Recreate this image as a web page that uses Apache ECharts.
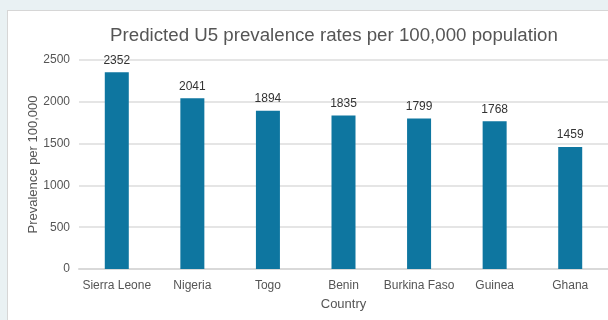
<!DOCTYPE html>
<html>
<head>
<meta charset="utf-8">
<script src="https://cdn.jsdelivr.net/npm/echarts@6/dist/echarts.min.js"></script>
<style>
  html, body { margin: 0; padding: 0; background: #e9f1f3; }
  #panel { position: absolute; left: 7px; top: 10px; width: 610px; height: 320px; background: #fff; border-left: 1px solid #d6d6d6; border-top: 1px solid #d6d6d6; }
  #chart { position: absolute; left: 0; top: 0; width: 608px; height: 320px; }
</style>
</head>
<body>
<div id="panel"></div>
<div id="chart"></div>
<script>
// Predicted under-five prevalence by country
const countries = ['Sierra Leone', 'Nigeria', 'Togo', 'Benin', 'Burkina Faso', 'Guinea', 'Ghana'];
const prevalence = [2352, 2041, 1894, 1835, 1799, 1768, 1459];
const yTicks = [0, 500, 1000, 1500, 2000, 2500];

const FONT = 'Liberation Sans, Arial, sans-serif';
const chart = echarts.init(document.getElementById('chart'), null, { renderer: 'canvas' });
chart.setOption({
  backgroundColor: 'transparent',
  animation: false,
  title: {
    text: 'Predicted U5 prevalence rates per 100,000 population',
    left: 329,
    top: 21,
    textAlign: 'center',
    textStyle: { fontFamily: FONT, fontSize: 18.7, fontWeight: 'normal', color: '#555' }
  },
  grid: { left: 79, right: -1, top: 60, bottom: 51, containLabel: false },
  xAxis: {
    type: 'category',
    data: countries,
    name: 'Country',
    nameLocation: 'middle',
    nameGap: 29,
    nameMoveOverlap: false,
    nameTextStyle: { fontFamily: FONT, fontSize: 13, color: '#555' },
    axisLine: { lineStyle: { color: '#d9d9d9', width: 2 } },
    axisTick: { show: false },
    axisLabel: { fontFamily: FONT, fontSize: 12, color: '#555', margin: 11, interval: 0 }
  },
  yAxis: {
    type: 'value',
    min: yTicks[0],
    max: yTicks[yTicks.length - 1],
    interval: 500,
    name: 'Prevalence per 100,000',
    nameLocation: 'middle',
    nameGap: 39,
    nameMoveOverlap: false,
    nameTextStyle: { fontFamily: FONT, fontSize: 13, color: '#555' },
    axisLine: { show: false },
    axisTick: { show: false },
    axisLabel: {
      fontFamily: FONT, fontSize: 12, color: '#555', margin: 9,
      formatter: v => String(v)
    },
    splitLine: { lineStyle: { color: '#dcdcdc', width: 1.5 } }
  },
  series: [{
    type: 'bar',
    data: prevalence,
    barWidth: 24,
    itemStyle: { color: '#0e76a0' },
    label: {
      show: true,
      position: 'top',
      distance: 6,
      fontFamily: FONT,
      fontSize: 12,
      color: '#333'
    }
  }]
});
</script>
</body>
</html>
